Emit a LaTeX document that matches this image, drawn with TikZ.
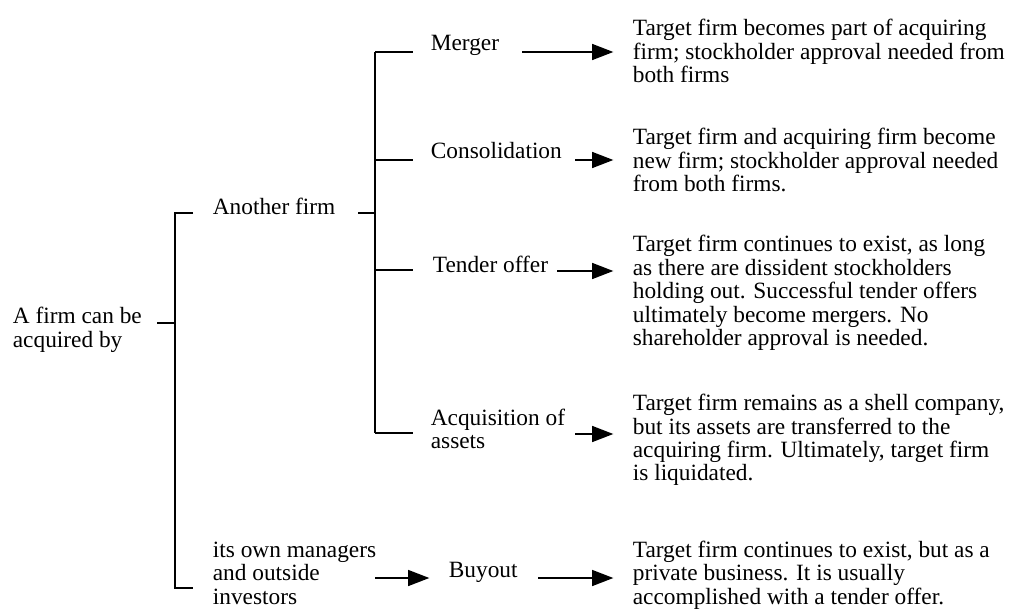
\documentclass[tikz,border=0pt]{standalone}
\usepackage{fontspec}
\setmainfont{Liberation Serif}
\usetikzlibrary{arrows.meta}
\tikzset{
    lbl/.style={anchor=west, align=left, inner sep=0pt, font=\fontsize{17.5}{17.6}\selectfont},
    arr/.style={-{Triangle[length=16pt,width=12pt]}, shorten >=14pt},
}
\begin{document}
\begin{tikzpicture}[x=0.75pt,y=-0.75pt,line width=1.3pt]
    \useasboundingbox (0,0) rectangle (1009,610);
    % labels on the left
    \node[lbl] (root) at (12,330) {A firm can be\\acquired by};
    \node[lbl] (another) at (212,206) {Another firm};
    \node[lbl] (owners) at (212,573) {its own managers\\and outside\\investors};
    % ways of acquiring
    \node[lbl] (merger) at (430,45) {Merger};
    \node[lbl] (consol) at (430,151) {Consolidation};
    \node[lbl] (tender) at (432,264) {Tender offer};
    \node[lbl] (assets) at (430,429) {Acquisition of\\assets};
    \node[lbl] (buyout) at (448,572) {Buyout};
    % what happens to the target
    \node[lbl] (mergerTxt) at (632,51) {Target firm becomes part of acquiring\\firm; stockholder approval needed from\\both firms};
    \node[lbl] (consolTxt) at (632,160) {Target firm and acquiring firm become\\new firm; stockholder approval needed\\from both firms.};
    \node[lbl] (tenderTxt) at (632,293) {Target firm continues to exist, as long\\as there are dissident stockholders\\holding out. Successful tender offers\\ultimately become mergers. No\\shareholder approval is needed.};
    \node[lbl] (assetsTxt) at (632,440) {Target firm remains as a shell company,\\but its assets are transferred to the\\acquiring firm. Ultimately, target firm\\is liquidated.};
    \node[lbl] (buyoutTxt) at (632,575) {Target firm continues to exist, but as a\\private business. It is usually\\accomplished with a tender offer.};
    % first bracket
    \coordinate (rootTick) at (157,323);
    \coordinate (rootJoin) at (175,323);
    \draw (rootTick) -- (rootJoin);
    \draw (193,213) -- (175,213) -- (175,588) -- (193,588);
    % second bracket
    \coordinate (anotherTick) at (358,213);
    \coordinate (anotherJoin) at (375,213);
    \draw (anotherTick) -- (anotherJoin);
    \draw (375,52) -- (375,433);
    \foreach \y in {52,160,270,433}
        \draw (375,\y) -- (413,\y);
    % arrows
    \coordinate (m1) at (522,52);
    \coordinate (c1) at (575,160);
    \coordinate (t1) at (557,271);
    \coordinate (a1) at (575,434);
    \coordinate (o1) at (375,578);
    \coordinate (b1) at (538,578);
    \draw[arr] (m1) -- (m1 -| mergerTxt.west);
    \draw[arr] (c1) -- (c1 -| consolTxt.west);
    \draw[arr] (t1) -- (t1 -| tenderTxt.west);
    \draw[arr] (a1) -- (a1 -| assetsTxt.west);
    \draw[arr] (o1) -- (o1 -| buyout.west);
    \draw[arr] (b1) -- (b1 -| buyoutTxt.west);
\end{tikzpicture}
\end{document}
